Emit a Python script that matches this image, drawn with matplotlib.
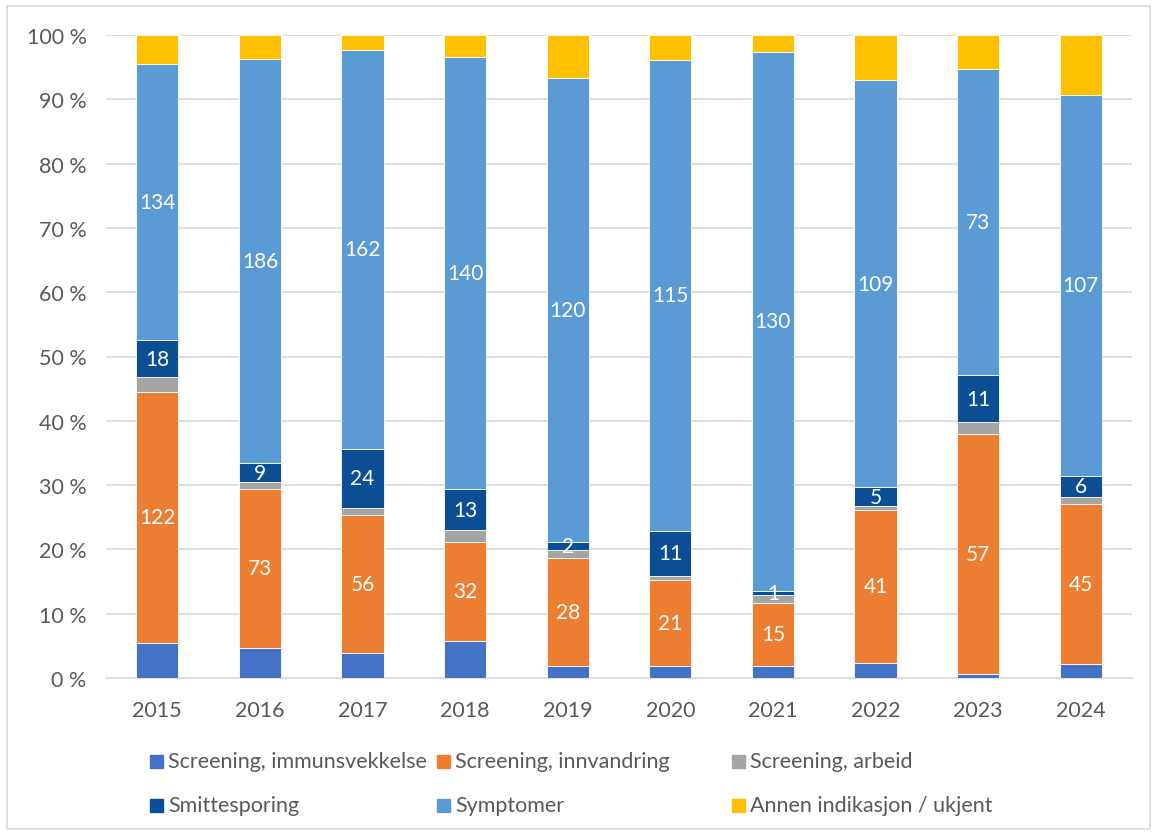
import matplotlib
matplotlib.use("Agg")
import matplotlib.pyplot as plt
from matplotlib.patches import Rectangle
import numpy as np

plt.rcParams['font.family'] = ['Lato', 'DejaVu Sans']

years = ['2015', '2016', '2017', '2018', '2019', '2020', '2021', '2022', '2023', '2024']
series_names = ['Screening, immunsvekkelse', 'Screening, innvandring', 'Screening, arbeid',
                'Smittesporing', 'Symptomer', 'Annen indikasjon / ukjent']
immunsvekkelse = [17, 14, 10, 12, 3, 3, 3, 4, 1, 4]
innvandring = [122, 73, 56, 32, 28, 21, 15, 41, 57, 45]
arbeid = [7, 3, 3, 4, 2, 1, 2, 1, 3, 2]
smittesporing = [18, 9, 24, 13, 2, 11, 1, 5, 11, 6]
symptomer = [134, 186, 162, 140, 120, 115, 130, 109, 73, 107]
annen = [14, 11, 6, 7, 11, 6, 4, 12, 8, 17]
labelled = [False, True, False, True, True, False]

colors = ['#4472C4', '#ED7D31', '#A5A5A5', '#0B4E93', '#5B9BD5', '#FFC000']

W, H = 1157, 837
fig = plt.figure(figsize=(W / 100, H / 100), dpi=100)

# outer frame
fig.patches.append(Rectangle((7 / W, 1 - 830 / H), 1143 / W, 823 / H, transform=fig.transFigure,
                             fill=False, edgecolor='#D9D9D9', linewidth=1.2))

ax = fig.add_axes([106 / W, 1 - 679 / H, (1132 - 106) / W, (679 - 36) / H])

data = np.array([immunsvekkelse, innvandring, arbeid, smittesporing, symptomer, annen], dtype=float)
totals = data.sum(axis=0)
pct = data / totals * 100
x = np.arange(len(years))
bottom = np.zeros(len(years))
for i, name in enumerate(series_names):
    bars = ax.bar(x, pct[i], 0.41, bottom=bottom, color=colors[i], edgecolor='white',
                  linewidth=0.6, label=name, zorder=3)
    if labelled[i]:
        for j, b in enumerate(bars):
            ax.text(x[j], bottom[j] + pct[i][j] / 2, f'{int(data[i][j])}', ha='center', va='center',
                    color='white', fontsize=15, zorder=4)
    bottom += pct[i]

ax.set_xlim(-0.5, len(years) - 0.5)
ax.set_ylim(0, 100)
ax.set_yticks(np.arange(0, 101, 10))
ax.set_yticklabels([f'{v} %' for v in range(0, 101, 10)])
ax.set_xticks(x)
ax.set_xticklabels(years)
ax.tick_params(axis='both', length=0, labelsize=15.5, colors='#595959')
ax.tick_params(axis='x', pad=16)
ax.tick_params(axis='y', pad=14)
ax.grid(axis='y', color='#D9D9D9', linewidth=1.2, zorder=0)
for s in ['top', 'right', 'left']:
    ax.spines[s].set_visible(False)
ax.spines['bottom'].set_color('#D9D9D9')
ax.spines['bottom'].set_linewidth(1.2)

# legend laid out in two rows of three entries
leg_cols = [150, 437, 732]
leg_rows = [762, 806]
for k, name in enumerate(series_names):
    cx = leg_cols[k % 3]
    cy = leg_rows[k // 3]
    fig.patches.append(Rectangle((cx / W, 1 - (cy + 7) / H), 13 / W, 13 / H,
                                 transform=fig.transFigure, color=colors[k]))
    fig.text((cx + 18) / W, 1 - cy / H, name, ha='left', va='center', fontsize=15.5, color='#595959')

fig.savefig('out.png', dpi=100)
